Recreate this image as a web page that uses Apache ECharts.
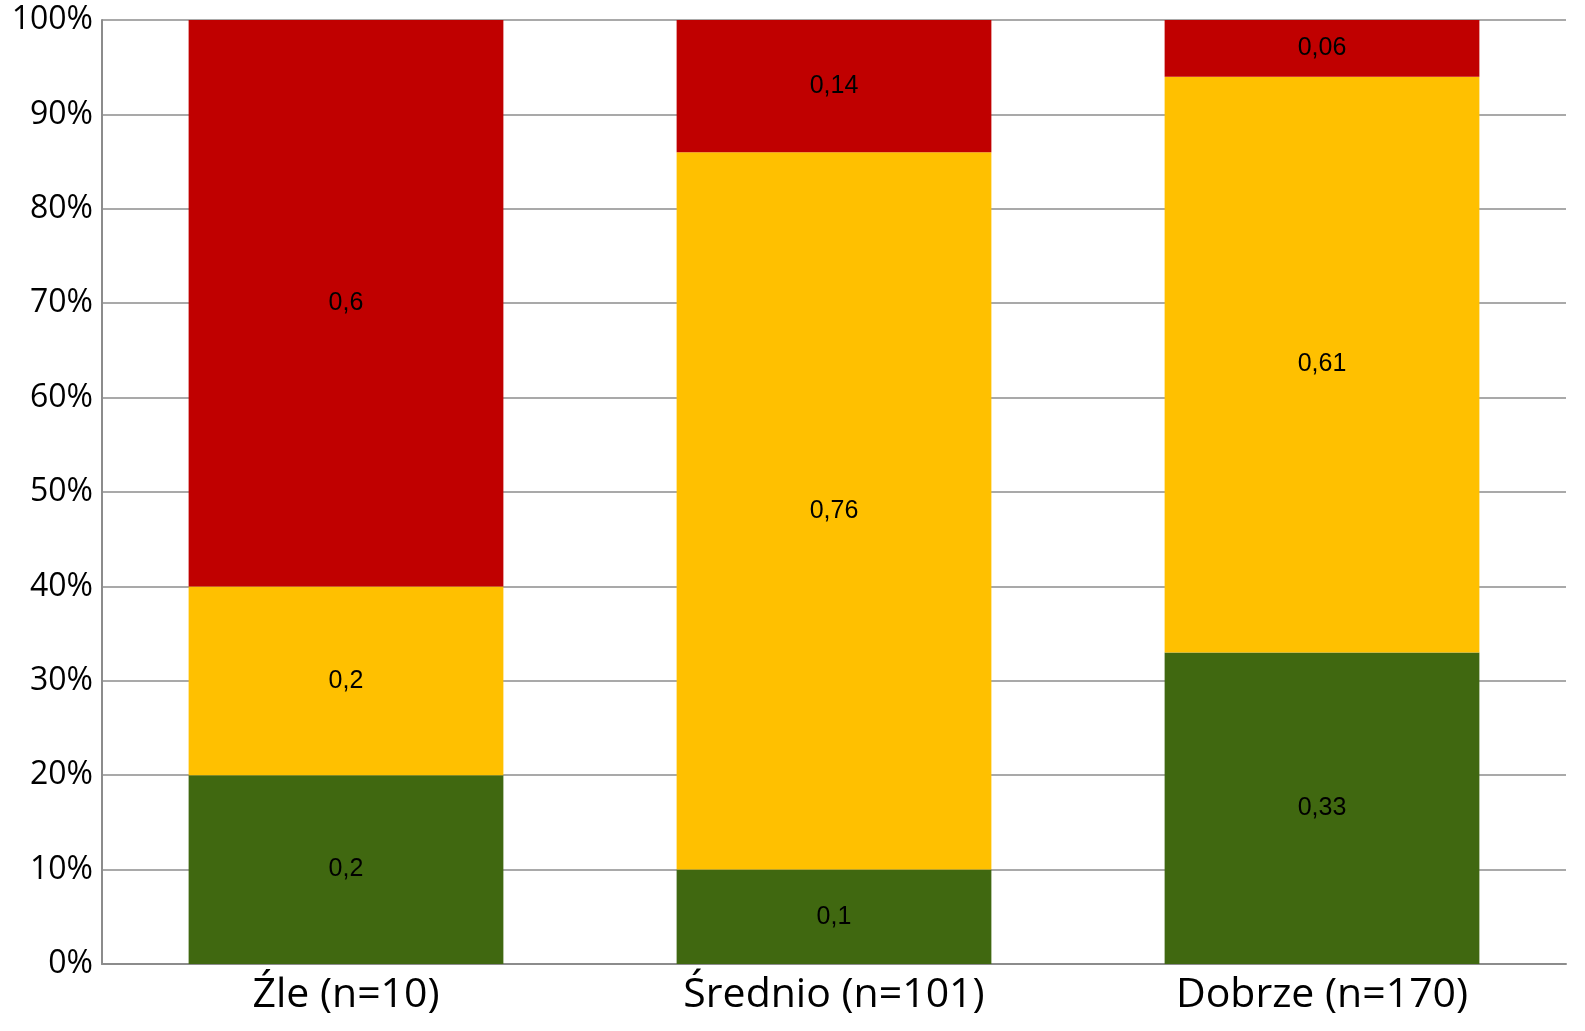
<!DOCTYPE html>
<html><head><meta charset="utf-8">
<script src="https://cdn.jsdelivr.net/npm/echarts@6/dist/echarts.min.js"></script>
<style>html,body{margin:0;padding:0;background:#fff}#c{width:1585px;height:1031px}</style>
</head><body><div id="c"></div>
<script>
const categories = ['Źle (n=10)', 'Średnio (n=101)', 'Dobrze (n=170)'];
const greenValues = [0.2, 0.1, 0.33];
const yellowValues = [0.2, 0.76, 0.61];
const redValues = [0.6, 0.14, 0.06];
const yTicks = [0, 0.1, 0.2, 0.3, 0.4, 0.5, 0.6, 0.7, 0.8, 0.9, 1];

const chart = echarts.init(document.getElementById('c'));
const lbl = {
  show: true, position: 'inside', color: '#000',
  fontFamily: 'Liberation Sans', fontSize: 25,
  formatter: p => String(p.value).replace('.', ',')
};
function s(name, data, color) {
  return { name, type: 'bar', stack: 'a', data, barWidth: '64.5%',
    itemStyle: { color }, label: lbl, emphasis: { disabled: true } };
}
chart.setOption({
  animation: false,
  grid: { left: 102, right: 19, top: 20, bottom: 67, containLabel: false },
  xAxis: {
    type: 'category', data: categories,
    axisLine: { lineStyle: { color: '#8c8c8c', width: 2 } },
    axisTick: { show: false },
    axisLabel: { color: '#000', fontFamily: 'Open Sans', fontSize: 41, margin: 11 }
  },
  yAxis: {
    type: 'value', min: 0, max: 1, interval: 0.1,
    axisLine: { show: true, lineStyle: { color: '#8c8c8c', width: 2 } },
    axisTick: { show: false },
    splitLine: { lineStyle: { color: '#8c8c8c', width: 1.5 } },
    axisLabel: { color: '#000', fontFamily: 'Open Sans', fontSize: 32, margin: 9,
      formatter: v => Math.round(v * 100) + '%' }
  },
  series: [
    s('green', greenValues, '#406810'),
    s('yellow', yellowValues, '#FFC000'),
    s('red', redValues, '#C00000')
  ]
});
</script></body></html>
